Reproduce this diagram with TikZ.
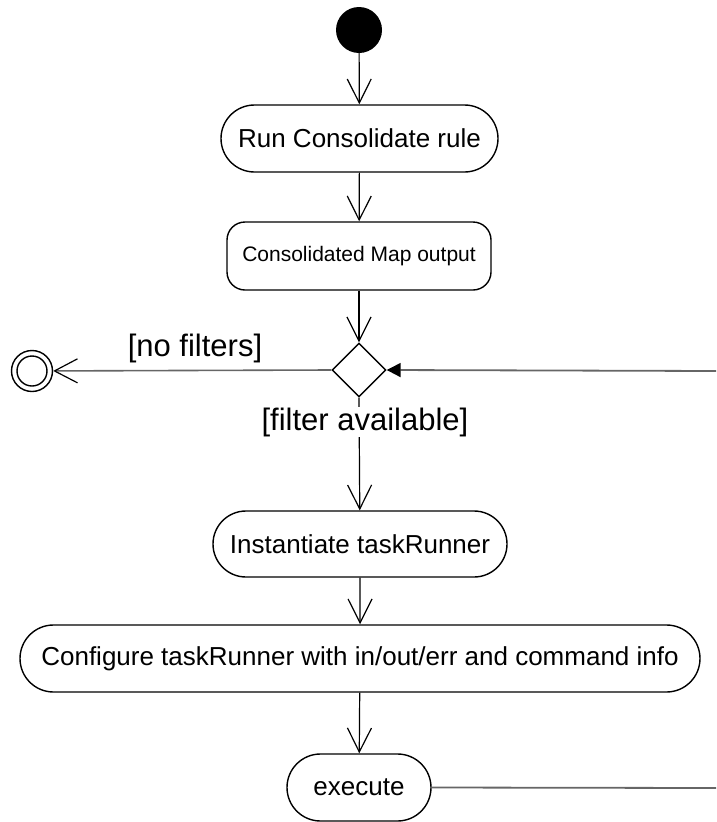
\documentclass[tikz,border=0pt]{standalone}
\usepackage{fontspec}
\setmainfont{Liberation Sans}
\usetikzlibrary{arrows.meta,shapes.misc,shapes.geometric}
\begin{document}
\begin{tikzpicture}[x=1pt,y=-1pt,
  action/.style={rounded rectangle, draw, line width=1.4pt, inner sep=0pt,
    font=\fontsize{26}{30}\selectfont},
  flow/.style={line width=1.2pt, -{Straight Barb[length=24pt,width=24pt,line width=1.2pt]}},
  plain/.style={line width=1.8pt, draw=black!60},
  guard/.style={inner sep=0pt, font=\fontsize{31}{36}\selectfont}]
\useasboundingbox (0,0) rectangle (716,822);

% start and final nodes
\node (start) [circle, fill=black, minimum size=46pt, inner sep=0pt] at (359,30) {};
\node (final) [circle, draw, line width=1.4pt, minimum size=41pt, inner sep=0pt] at (32,371) {};
\node (finalin) [circle, draw, line width=1.4pt, minimum size=30pt, inner sep=0pt] at (32,371) {};

% actions
\node (run) [action, minimum width=277pt, minimum height=67pt] at (359.5,138.5) {Run Consolidate rule};
\node (cmap) [draw, rounded corners=18pt, line width=1.4pt, inner sep=0pt,
  minimum width=264pt, minimum height=68pt, font=\fontsize{21}{25}\selectfont] at (359,256) {Consolidated Map output};
\node (dec) [diamond, draw, line width=1.4pt, minimum width=54pt, minimum height=54pt, inner sep=0pt] at (359,370) {};
\node (inst) [action, minimum width=294pt, minimum height=66pt] at (360,544) {Instantiate taskRunner};
\node (conf) [action, minimum width=680pt, minimum height=67pt] at (360,658.5) {Configure taskRunner with in/out/err and command info};
\node (exec) [action, minimum width=144pt, minimum height=67pt] at (359,787.5) {execute};

% free ends at the right margin
\coordinate (back) at (716,371);
\coordinate (out) at (716,788);

% connectors
\draw[flow] (start) -- (run);
\draw[flow] (run) -- (cmap);
\draw[flow] (cmap) -- (dec.north);
\draw[flow] (dec.south) -- (inst);
\draw[flow] (inst) -- (conf);
\draw[flow] (conf) -- (exec);
\draw[plain, line width=1.6pt, -{Straight Barb[length=23pt,width=24pt,line width=1.2pt,color=black]}] (dec.west) -- (final);
\draw[plain, -{Triangle[length=14pt,width=14pt,color=black,fill=black]}] (back) -- (dec.east);
\draw[plain] (exec.east) -- (out);

% guards
\node (nofilt) [guard] at (195,348) {[no filters]};
\node (filt) [guard, fill=white, inner ysep=1pt] at (365,422) {[filter available]};
\end{tikzpicture}
\end{document}
